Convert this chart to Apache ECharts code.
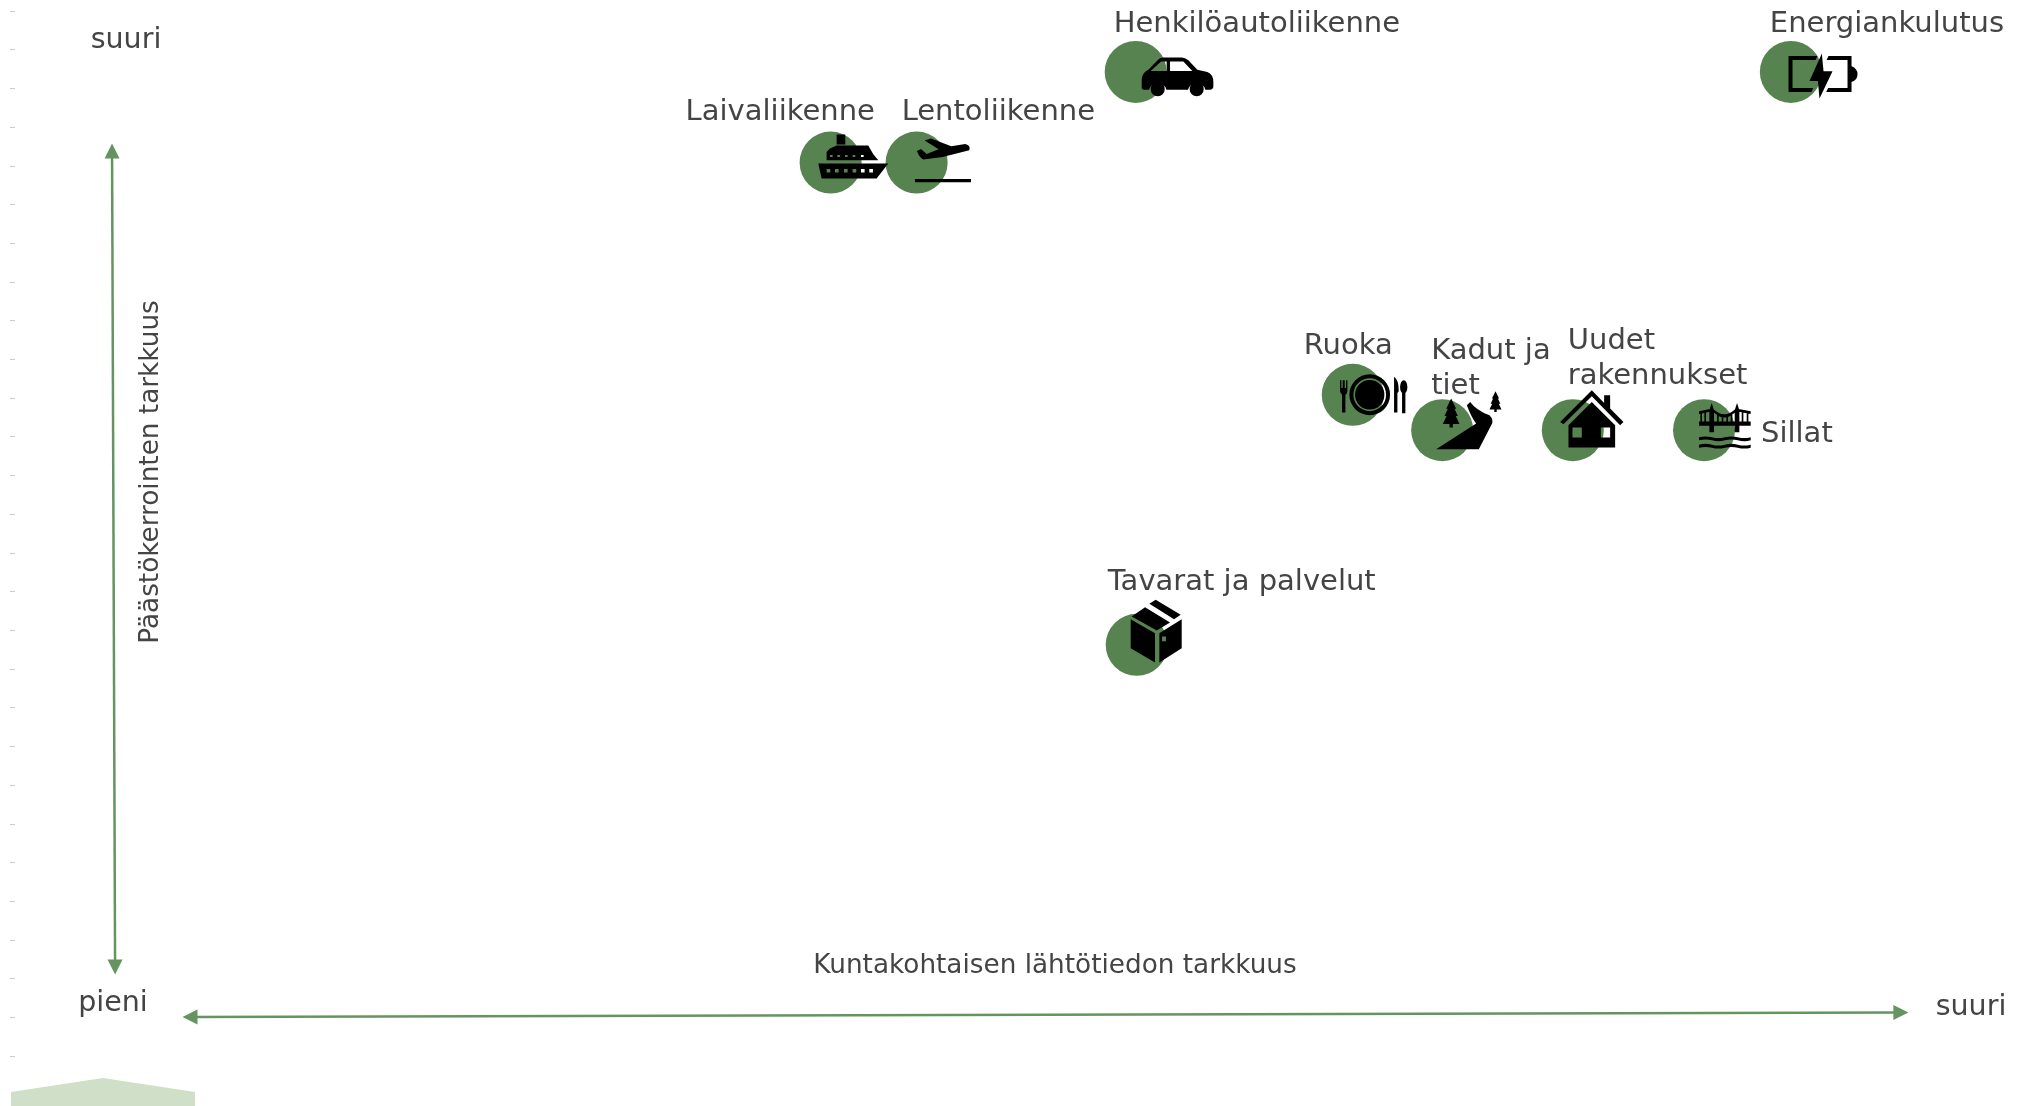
<!DOCTYPE html>
<html><head><meta charset="utf-8">
<style>html,body{margin:0;padding:0;background:#fff}#c{width:2019px;height:1106px}</style>
<script src="https://cdn.jsdelivr.net/npm/echarts@6/dist/echarts.min.js"></script></head>
<body><div id="c"></div>
<script>
// Values: position on each axis, 0-100 scale
const categories = ['Henkilöautoliikenne','Energiankulutus','Laivaliikenne','Lentoliikenne','Ruoka','Kadut ja\ntiet','Uudet\nrakennukset','Sillat','Tavarat ja palvelut'];
const xValues = [56.25,88.7,41.14,45.4,67.0,71.43,77.9,84.4,56.3];
const yValues = [93.5,93.5,85.3,85.3,64.3,61.1,61.1,61.1,41.7];
const vArrow = [[5.55,86.35],[5.7,12.57]];
const hArrow = [[9.41,8.05],[94.15,8.45]];

const FONT = '"DejaVu Sans"';
const GREEN = '#578350';
const INK = '#444';
// label offset from the point centre
const labelOffsets = [[-22,-47],[-21,-47],[-145,-50],[-15,-50],[-49,-48],[-11,-61],[-5,-71],[57,4],[-29,-62]];

const R=(x,y,w,h)=>`M${x} ${y}L${x+w} ${y}L${x+w} ${y+h}L${x} ${y+h}Z`;
const H=(x,y,w,h)=>`M${x} ${y}L${x} ${y+h}L${x+w} ${y+h}L${x+w} ${y}Z`;
const C=(x,y,r,ry)=>`M${x-r} ${y}A${r} ${ry||r} 0 1 1 ${x+r} ${y}A${r} ${ry||r} 0 1 1 ${x-r} ${y}Z`;
const CH=(x,y,r)=>`M${x-r} ${y}A${r} ${r} 0 1 0 ${x+r} ${y}A${r} ${r} 0 1 0 ${x-r} ${y}Z`;
const tree=(x,t,b,w)=>{const h=b-t,s=w/2;return `M${x} ${t}L${x+s*.6} ${t+h*.35}L${x+s*.4} ${t+h*.35}L${x+s*.8} ${t+h*.6}L${x+s*.55} ${t+h*.6}L${x+s} ${t+h*.88}L${x+s*.2} ${t+h*.88}L${x+s*.2} ${b}L${x-s*.2} ${b}L${x-s*.2} ${t+h*.88}L${x-s} ${t+h*.88}L${x-s*.55} ${t+h*.6}L${x-s*.8} ${t+h*.6}L${x-s*.4} ${t+h*.35}L${x-s*.6} ${t+h*.35}Z`;};
const wave=(x0,x1,y,t)=>{const n=4,d=(x1-x0)/n;let p=`M${x0} ${y}`;for(let i=0;i<n;i++){p+=`Q${x0+d*i+d/2} ${y+(i%2?5:-5)} ${x0+d*(i+1)} ${y}`;}p+=`L${x1} ${y+t}`;for(let i=n-1;i>=0;i--){p+=`Q${x0+d*i+d/2} ${y+t+(i%2?5:-5)} ${x0+d*i} ${y+t}`;}return p+'Z';};

// icon drawings: path, bounding box, circle centre (drawing units are 1/3 px)
const icons = [
 {c:[1067,215],b:[1085,172,1300,288],p:'M1085 262L1085 235Q1088 215 1105 208L1135 178Q1140 172 1150 172L1205 172Q1215 172 1225 180L1252 208L1282 215Q1300 222 1300 245L1300 258Q1300 268 1285 268L1276 268A27 27 0 0 0 1224 268L1159 268A27 27 0 0 0 1107 268L1095 268Q1085 268 1085 262Z M1112 212L1160 212L1160 184L1143 184Z M1170 212L1237 212L1210 184L1170 184Z'+C(1133,266,21)+C(1250,266,21)},
 {c:[212,215],b:[205,160,412,295],p:'M292 167L205 167L205 275L274 275L279 263L217 263L217 179L286 179Z M325 167L394 167L394 275L318 275L324 263L382 263L382 179L319 179Z M394 198Q412 205 412 222Q412 240 394 245Z M305 160L268 242L293 242L298 295L337 213L310 213Z'},
 {c:[152,487],b:[115,403,325,535],p:R(170,403,26,30)+'M150 445L170 436L265 436L280 462L295 480L140 480L140 455Z'+H(150,464,8,6)+H(172,464,8,6)+H(195,464,8,6)+H(218,464,8,6)+H(243,464,8,6)+'M115 490L325 490L290 535L125 535Z'+H(140,506,11,11)+H(165,506,11,11)+H(192,506,11,11)+H(218,506,11,11)+H(243,506,11,11)+H(268,506,11,11)},
 {c:[412,487],b:[407,415,575,546],p:'M413 452L425 446L442 461L478 447L436 421L455 415L516 438L558 431Q575 435 570 450L490 470L432 478Q420 472 413 452Z'+R(407,536,168,10)},
 {c:[218,255],b:[180,193,382,316],p:'M180 212L184 212L184 235L188 235L188 212L194 212L194 235L198 235L198 212L202 212L202 245Q200 255 196 255L196 308L186 308L186 255Q180 250 180 245Z'+C(269,255,61)+CH(269,255,49)+C(269,255,44)+'M342 308L342 202Q356 210 356 245L352 250L352 308Z'+C(371,232,11,20)+R(366,250,10,60)},
 {c:[488,360],b:[470,243,666,417],p:tree(515,265,352,50)+tree(648,243,305,36)+'M470 417L590 340Q575 320 562 285L572 275Q590 300 630 315Q645 330 635 345L598 417Z'},
 {c:[878,360],b:[840,240,1030,412],p:'M840 335L935 240L972 278L972 255L990 255L990 295L1030 335L1020 345L935 258L850 342Z M865 345L935 275L1005 345L1005 412L865 412Z'+H(877,352,28,30)+H(962,352,28,30)},
 {c:[1272,360],b:[1257,278,1412,415],p:R(1257,333,155,13)+'M1295 278L1302 300L1302 365L1288 365L1288 300Z M1371 278L1378 300L1378 365L1364 365L1364 300Z'+'M1257 303L1290 296L1290 304L1257 311Z M1300 296Q1333 328 1366 296L1366 305Q1333 338 1300 305Z M1376 296L1412 303L1412 311L1376 304Z'+R(1261,308,5,28)+R(1273,305,5,30)+R(1311,314,5,22)+R(1325,320,5,16)+R(1339,320,5,16)+R(1352,314,5,22)+R(1385,306,5,30)+R(1400,308,5,28)+wave(1257,1412,380,9)+wave(1257,1412,402,9)},
 {c:[140,225],b:[122,90,275,278],p:'M125 140L165 112L240 158L200 182Z M178 102L197 90L272 135L252 148Z M122 148L195 190L195 278L122 235Z M208 190L275 148L275 235L208 278Z'+H(216,200,12,14)}
];

const chart = echarts.init(document.getElementById('c'));
const text=(t,x,y,size,extra)=>Object.assign({type:'text',x:x,y:y,style:{text:t,fill:INK,font:`${size}px ${FONT}`,textAlign:'center',textVerticalAlign:'middle'}},extra||{});
chart.setOption({
 animation:false,
 backgroundColor:'#fff',
 grid:[{left:0,right:0,top:0,bottom:0},{left:15,top:11,width:2,height:1045}],
 xAxis:[{type:'value',min:0,max:100,show:false},{gridIndex:1,type:'value',min:0,max:1,show:false}],
 yAxis:[{type:'value',min:0,max:100,show:false},
  {gridIndex:1,type:'value',min:0,max:27,interval:1,axisLine:{show:false},splitLine:{show:false},axisLabel:{show:false},axisTick:{show:true,length:5,lineStyle:{color:'#ccc',width:1}}}],
 graphic:[
  {type:'polygon',shape:{points:[[11,1092],[103,1078],[195,1092],[195,1106],[11,1106]]},style:{fill:'#cfdfc8'}},
  text('suuri',126,41,28.5),
  text('pieni',113,1004,28.5),
  text('suuri',1971,1008,28.5),
  text('Päästökerrointen tarkkuus',151,472,26.3,{rotation:Math.PI/2}),
  text('Kuntakohtaisen lähtötiedon tarkkuus',1055,966,26.3)
 ],
 series:[
  {type:'scatter',symbol:'circle',symbolSize:62,z:2,
   itemStyle:{color:GREEN,opacity:1},
   data:categories.map((n,i)=>({name:n,value:[xValues[i],yValues[i]],
     label:{show:true,position:'inside',formatter:n,align:'left',verticalAlign:'middle',offset:labelOffsets[i],color:INK,fontFamily:'DejaVu Sans',fontSize:29,lineHeight:35}})),
   markLine:{silent:true,symbol:['triangle','triangle'],symbolSize:[15,15],label:{show:false},
    lineStyle:{color:'#649460',width:2.5,type:'solid',opacity:1},
    data:[[{coord:vArrow[0]},{coord:vArrow[1]}],[{coord:hArrow[0]},{coord:hArrow[1]}]]}},
  {type:'scatter',z:3,
   data:categories.map((n,i)=>{const k=icons[i],w=k.b[2]-k.b[0],h=k.b[3]-k.b[1];return {name:n,value:[xValues[i],yValues[i]],
     symbol:'path://'+k.p,symbolKeepAspect:false,symbolSize:[w/3,h/3],
     symbolOffset:[((k.b[0]+k.b[2])/2-k.c[0])/3,((k.b[1]+k.b[3])/2-k.c[1])/3]};}),
   itemStyle:{color:'#000',opacity:1},label:{show:false}}
 ]
});
</script></body></html>
